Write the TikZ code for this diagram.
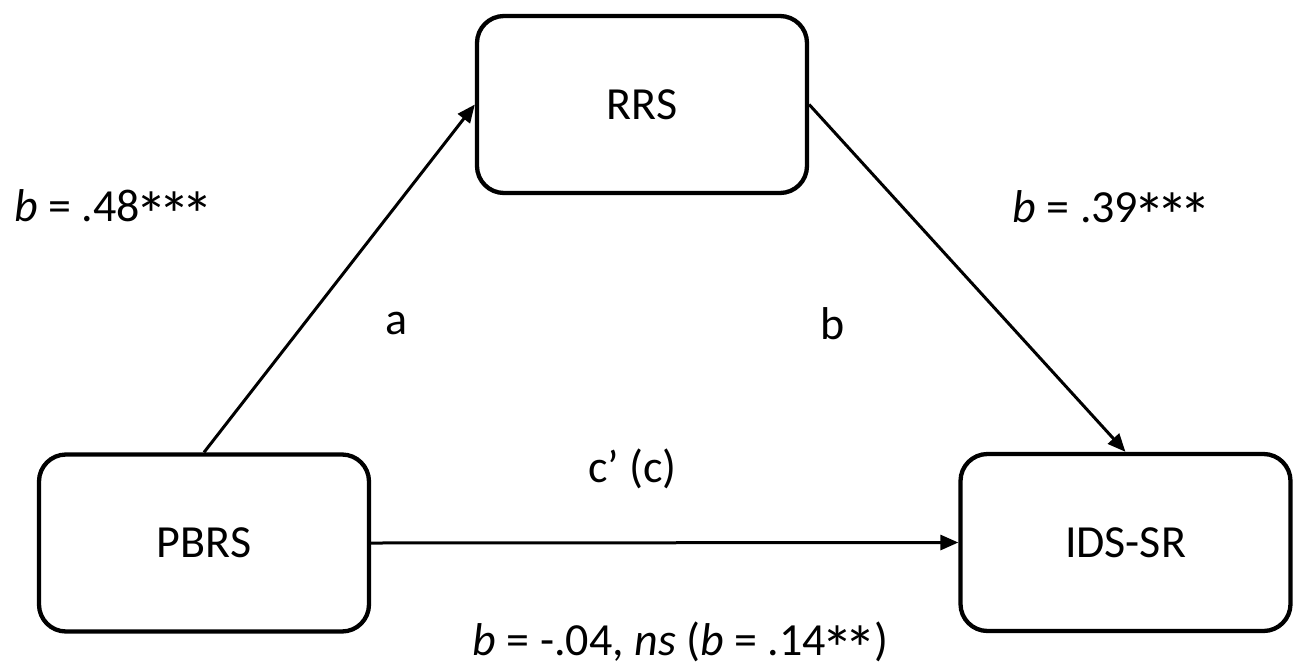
\documentclass[tikz,border=0pt]{standalone}
\usepackage{fontspec}
\usepackage{graphicx}
\setmainfont{Carlito}
\usetikzlibrary{arrows.meta}
\newcommand\bigstar{\makebox[0.5em]{\raisebox{\dimexpr 0.64em-\height\relax}{\scalebox{1.4}{*}}}}
\begin{document}
\begin{tikzpicture}[x=1pt,y=-1pt,
  box/.style={draw, line width=4.3pt, rounded corners=27pt, minimum width=330pt, minimum height=177pt, inner sep=0pt, font=\fontsize{46}{55}\selectfont},
  conn/.style={line width=3pt, -{Triangle[length=18pt,width=15pt]}},
  lbl/.style={anchor=base, inner sep=0pt, font=\fontsize{46}{55}\selectfont}]
\useasboundingbox (0,0) rectangle (1301,670);
\node[box] (rrs) at (642,104.5) {RRS};
\node[box] (pbrs) at (204,543) {PBRS};
\node[box] (ids) at (1125.5,542.5) {IDS-SR};
\draw[conn] (pbrs.north) -- (rrs.west);
\draw[conn] (rrs.east) -- (ids.north);
\draw[conn] (pbrs.east) -- (ids.west);
\node[lbl] (la) at (111.5,221) {\textit{b} = .48\bigstar\bigstar\bigstar};
\node[lbl] (lb) at (1110,222) {\textit{b} = .39\bigstar\bigstar\bigstar};
\node[lbl] (a) at (396.5,334) {a};
\node[lbl] (b) at (832.5,339) {b};
\node[lbl] (c) at (632.5,482) {c’ (c)};
\node[lbl] (lc) at (680.5,655) {\textit{b} = -.04, \textit{ns} (\textit{b} = .14\bigstar\bigstar\kern0.05em)};
\end{tikzpicture}
\end{document}
